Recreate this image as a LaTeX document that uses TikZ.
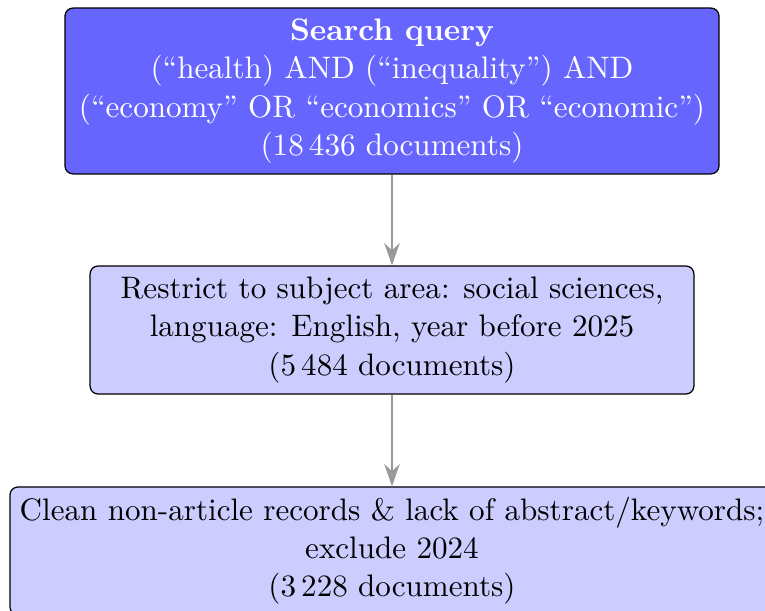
\documentclass[tikz,border=0pt]{standalone}
\usetikzlibrary{arrows.meta}
\begin{document}
\begin{tikzpicture}[
  x=0.32258pt, y=-0.32258pt,
  box/.style={draw=black, rounded corners=2.6pt, align=center, inner sep=0pt,
    font=\fontsize{10.03}{12.3}\selectfont},
  querybox/.style={box, fill=blue!60, text=white},
  stepbox/.style={box, fill=blue!20},
  flow/.style={draw=gray!80, thick, -{Stealth[length=7.2pt, width=5pt]}}
]
\useasboundingbox (0,0) rectangle (765,611);

\node[querybox, minimum width=211pt, minimum height=53.5pt] (query) at (392,91)
  {\textbf{Search query}\\
   (``health) AND (``inequality'') AND\\
   (``economy'' OR ``economics'' OR ``economic'')\\
   (18\,436 documents)};

\node[stepbox, minimum width=194.8pt, minimum height=41.3pt] (restrict) at (392,330)
  {Restrict to subject area: social sciences,\\
   language: English, year before 2025\\
   (5\,484 documents)};

\node[stepbox, minimum width=246.5pt, minimum height=41.3pt] (clean) at (392,551)
  {Clean non-article records \& lack of abstract/keywords;\\
   exclude 2024\\
   (3\,228 documents)};

\draw[flow] (query) -- (restrict);
\draw[flow] (restrict) -- (clean);
\end{tikzpicture}
\end{document}
